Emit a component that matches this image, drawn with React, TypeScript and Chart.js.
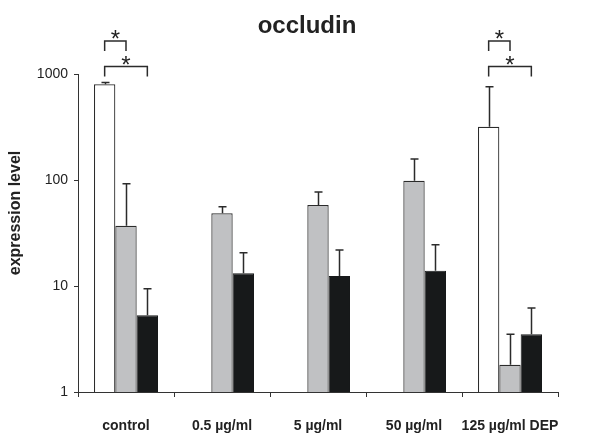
import React, { useEffect, useRef } from 'react';
import { Chart, registerables } from 'chart.js';

Chart.register(...registerables);

// ---- data ----
const categories = ['control', '0.5 \u00b5g/ml', '5 \u00b5g/ml', '50 \u00b5g/ml', '125 \u00b5g/ml DEP'];
const seriesNames = ['series 1', 'series 2', 'series 3'];
const whiteValues = [800, null, null, null, 318];
const whiteErrTop = [830, null, null, null, 760];
const grayValues = [37, 48.5, 58, 98.5, 1.81];
const grayErrTop = [92, 56, 77, 158, 3.5];
const blackValues = [5.3, 13.2, 12.4, 13.9, 3.5];
const blackErrTop = [9.4, 20.6, 21.9, 24.5, 6.2];
const yTicks = [1, 10, 100, 1000];
// significance brackets: category index, from-series, to-series
const sigCategories = [0, 4];
const sigPairs = [
  [0, 1],
  [0, 2],
];
const titleText = 'occludin';
const yTitle = 'expression level';

const FONT = '"Liberation Sans", Arial, Helvetica, sans-serif';
const INK = '#222';

const errTops = [whiteErrTop, grayErrTop, blackErrTop];

const overlayPlugin = {
  id: 'overlay',
  afterDatasetsDraw(chart: any) {
    const ctx = chart.ctx;
    const yScale = chart.scales.y;
    const area = chart.chartArea;
    ctx.save();
    ctx.strokeStyle = '#2b2b2b';
    ctx.lineWidth = 1.5;
    // error bars
    chart.data.datasets.forEach((ds: any, d: number) => {
      const meta = chart.getDatasetMeta(d);
      meta.data.forEach((el: any, i: number) => {
        const v = ds.data[i];
        const top = errTops[d][i];
        if (v == null || top == null) return;
        const yTop = yScale.getPixelForValue(top);
        const x = Math.round(el.x) + 0.5;
        ctx.beginPath();
        ctx.moveTo(x, el.y);
        ctx.lineTo(x, yTop);
        ctx.moveTo(x - 4, yTop);
        ctx.lineTo(x + 4, yTop);
        ctx.stroke();
      });
    });
    // significance brackets
    ctx.fillStyle = INK;
    ctx.font = `24px ${FONT}`;
    ctx.textAlign = 'center';
    ctx.textBaseline = 'alphabetic';
    const levels = [
      { line: area.top - 33, leg: area.top - 23, star: area.top - 27 },
      { line: area.top - 7.5, leg: area.top + 2.5, star: area.top - 1.5 },
    ];
    sigCategories.forEach((c) => {
      sigPairs.forEach((p, k) => {
        const x1 = chart.getDatasetMeta(p[0]).data[c].x;
        const x2 = chart.getDatasetMeta(p[1]).data[c].x;
        const lv = levels[k];
        ctx.beginPath();
        ctx.moveTo(x1, lv.leg);
        ctx.lineTo(x1, lv.line);
        ctx.lineTo(x2, lv.line);
        ctx.lineTo(x2, lv.leg);
        ctx.stroke();
        ctx.fillText('*', (x1 + x2) / 2, lv.star);
      });
    });
    // title
    ctx.font = `bold 24px ${FONT}`;
    ctx.fillText(titleText, (area.left + area.right) / 2 - 11, area.top - 41);
    // y-axis title
    ctx.font = `bold 16px ${FONT}`;
    ctx.textBaseline = 'middle';
    ctx.translate(area.left - 62, (area.top + area.bottom) / 2 - 20);
    ctx.rotate(-Math.PI / 2);
    ctx.fillText(yTitle, 0, 0);
    ctx.restore();
  },
};

export default function App() {
  const ref = useRef<HTMLCanvasElement | null>(null);
  useEffect(() => {
    document.body.style.margin = '0';
    document.body.style.overflow = 'hidden';
    const canvas = ref.current;
    if (!canvas) return;
    const chart = new Chart(canvas, {
      type: 'bar',
      data: {
        labels: categories,
        datasets: [
          { label: seriesNames[0], data: whiteValues as any, backgroundColor: '#ffffff', borderColor: '#2b2b2b', borderWidth: 1.2 },
          { label: seriesNames[1], data: grayValues, backgroundColor: '#c0c1c3', borderColor: '#2b2b2b', borderWidth: 1.2 },
          { label: seriesNames[2], data: blackValues, backgroundColor: '#17191a', borderColor: '#17191a', borderWidth: 1 },
        ],
      },
      options: {
        animation: false,
        responsive: false,
        maintainAspectRatio: false,
        devicePixelRatio: 1,
        layout: { padding: { left: 0, top: 74, right: 33, bottom: 0 } },
        datasets: { bar: { categoryPercentage: 0.667, barPercentage: 1 } },
        plugins: {
          legend: { display: false },
          tooltip: { enabled: false },
          title: { display: false },
        },
        scales: {
          x: {
            afterFit: (s: any) => {
              s.height = 46;
            },
            ticks: {
              font: { family: FONT, size: 14, weight: 'bold' },
              color: INK,
              padding: 21,
              maxRotation: 0,
              autoSkip: false,
            },
            grid: { display: true, drawOnChartArea: false, drawTicks: true, tickLength: 5, color: '#333', offset: true },
            border: { display: true, color: '#333', width: 1 },
          },
          y: {
            type: 'logarithmic',
            min: 1,
            max: 1000,
            afterBuildTicks: (s: any) => {
              s.ticks = yTicks.map((v) => ({ value: v }));
            },
            afterFit: (s: any) => {
              s.width = 78;
            },
            ticks: {
              callback: (v: any) => String(v),
              font: { family: FONT, size: 14 },
              color: INK,
              padding: 6,
            },
            grid: { display: true, drawOnChartArea: false, drawTicks: true, tickLength: 4, color: '#333' },
            border: { display: true, color: '#333', width: 1 },
            title: { display: false },
          },
        },
      },
      plugins: [overlayPlugin],
    } as any);
    return () => chart.destroy();
  }, []);
  return (
    <div style={{ width: 591, height: 438, position: 'relative' }}>
      <canvas ref={ref} width={591} height={438} style={{ display: 'block' }} />
    </div>
  );
}
